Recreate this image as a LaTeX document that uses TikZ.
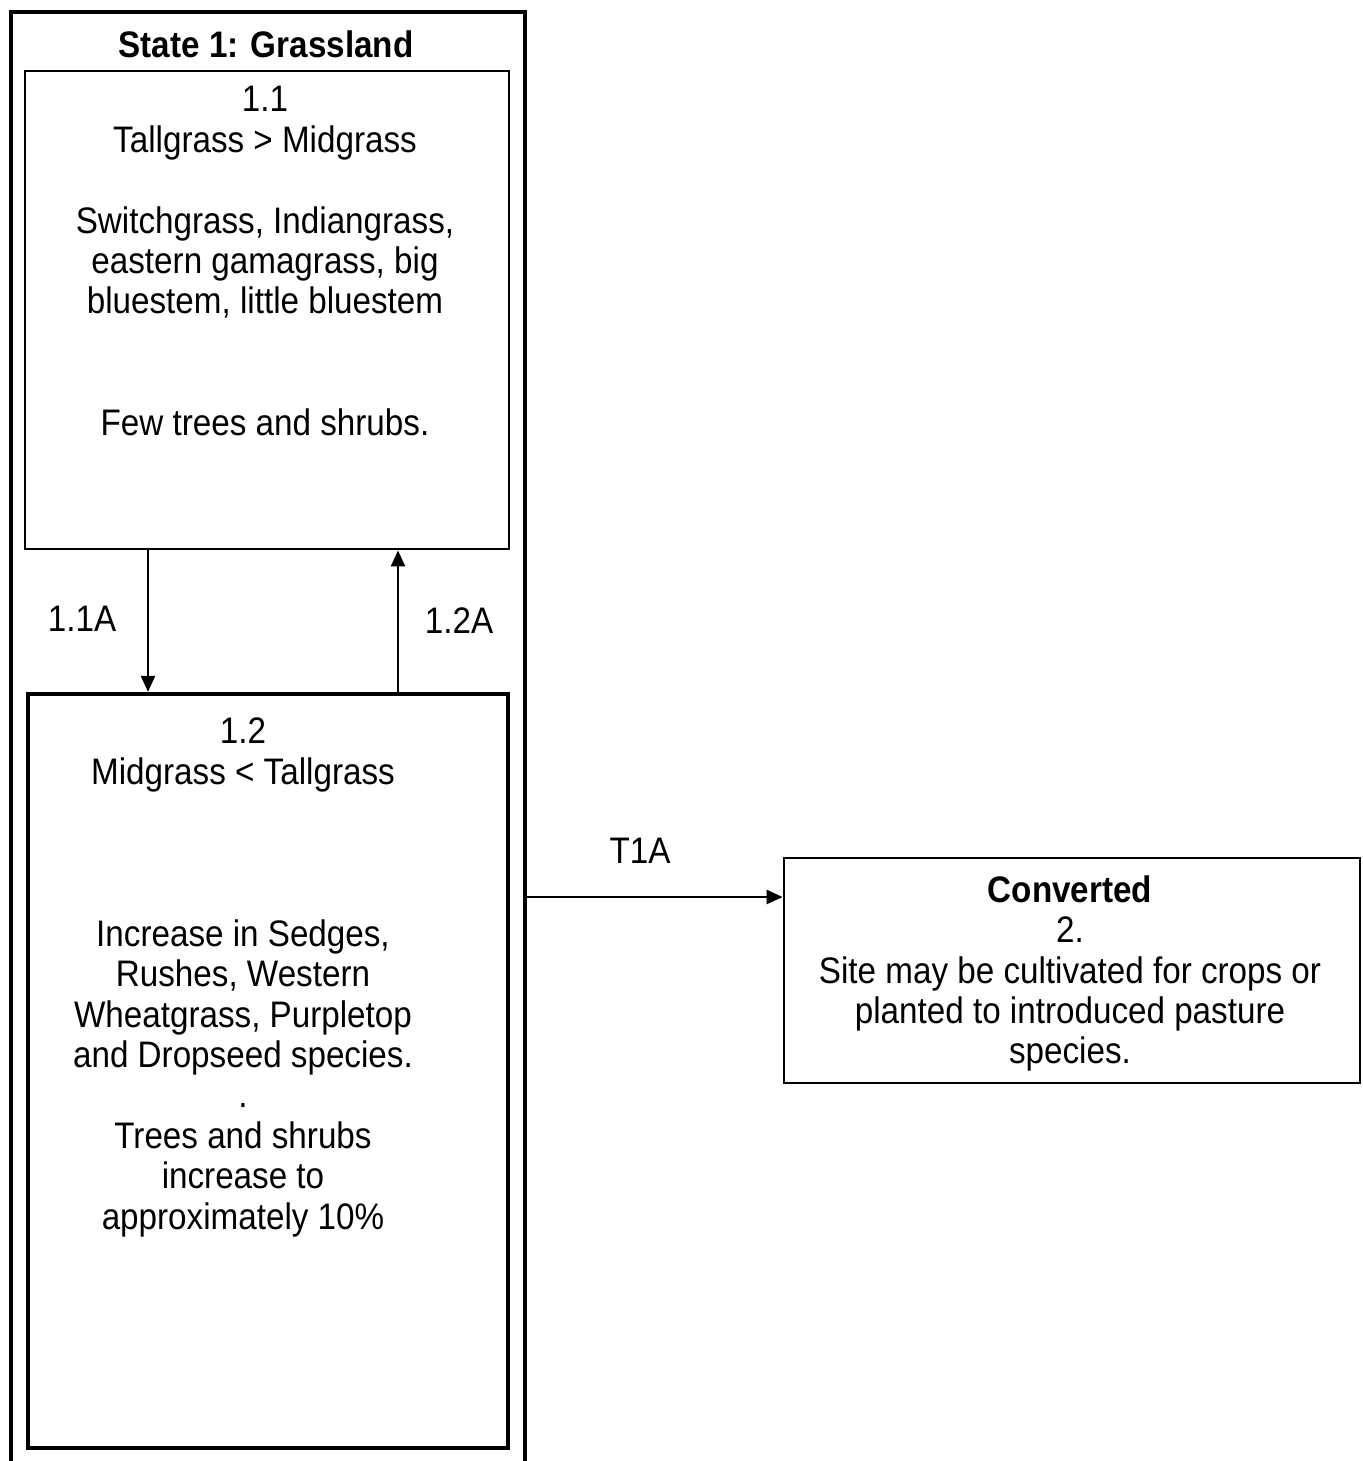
\documentclass[tikz,border=0pt]{standalone}
\usepackage{fontspec}
\setmainfont{Liberation Sans}[FakeStretch=0.9]
\usepackage{tikz}
\usetikzlibrary{positioning,arrows.meta,calc}

\begin{document}
\begin{tikzpicture}[
  every node/.style={font=\fontsize{10.5pt}{11.5pt}\selectfont},
  phase/.style={draw,line width=0.8pt,inner sep=0pt},
  txt/.style={align=center,inner sep=0pt},
  lbl/.style={inner sep=0pt},
  >={Triangle[length=1.6mm,width=1.4mm]} ]
  \useasboundingbox (0,0) rectangle (13.63,-14.61);

  % state 1 frame, open at the bottom
  \draw[line width=1.3pt] (0.11,-14.61) |- (5.25,-0.12) -- (5.25,-14.61);
  \node[lbl,font=\fontsize{10.5pt}{11.5pt}\selectfont\bfseries] (st1) at (2.66,-0.44) {State 1: Grassland};

  \node[phase,minimum width=4.84cm,minimum height=4.78cm] (s11) at (2.67,-3.10) {};
  \node[phase,line width=1.2pt,minimum width=4.80cm,minimum height=7.54cm] (s12) at (2.68,-10.71) {};
  \node[phase,minimum width=5.76cm,minimum height=2.25cm] (conv) at (10.72,-9.705) {};

  \node[txt] (t11) at (2.65,-2.61) {1.1\\ Tallgrass > Midgrass\\[0.405cm]
    Switchgrass, Indiangrass,\\ eastern gamagrass, big\\ bluestem, little bluestem\\[0.81cm]
    Few trees and shrubs.};
  \node[txt] (t12) at (2.43,-9.775) {1.2\\ Midgrass < Tallgrass\\[1.215cm]
    Increase in Sedges,\\ Rushes, Western\\ Wheatgrass, Purpletop\\ and Dropseed species.\\ .\\
    Trees and shrubs\\ increase to\\ approximately 10\%};
  \node[txt] (t2) at (10.70,-9.735) {\textbf{Converted}\\ 2.\\ Site may be cultivated for crops or\\
    planted to introduced pasture\\ species.};

  \draw[->,line width=0.6pt] ([xshift=-1.19cm]s11.south) -- ([xshift=-1.20cm]s12.north);
  \draw[->,line width=0.6pt] ([xshift=1.30cm]s12.north) -- ([xshift=1.31cm]s11.south);
  \node[lbl] (l11a) at (0.82,-6.19) {1.1A};
  \node[lbl] (l12a) at (4.59,-6.21) {1.2A};

  \coordinate (t1a) at (5.25,-8.97);
  \draw[->,line width=0.7pt] (t1a) -- (t1a -| conv.west);
  \node[lbl] (lt1a) at (6.40,-8.51) {T1A};
\end{tikzpicture}
\end{document}
